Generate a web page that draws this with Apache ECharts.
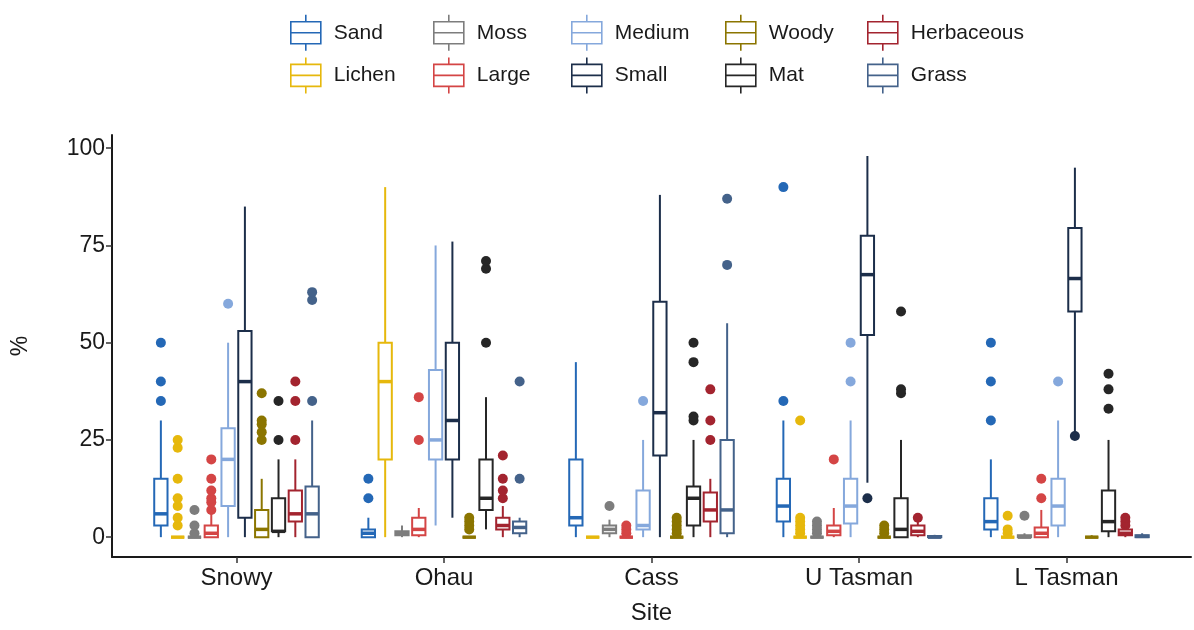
<!DOCTYPE html>
<html><head><meta charset="utf-8">
<script src="https://cdn.jsdelivr.net/npm/echarts@6/dist/echarts.min.js"></script>
<style>html,body{margin:0;padding:0;background:#fff}#c{width:1194px;height:630px}</style>
</head><body><div id="c"></div>
<script>
// ---------- data ----------
const sites = ['Snowy', 'Ohau', 'Cass', 'U Tasman', 'L Tasman'];
const groups = ['Sand', 'Lichen', 'Moss', 'Large', 'Medium', 'Small', 'Woody', 'Mat', 'Herbaceous', 'Grass'];
const yTicks = [0, 25, 50, 75, 100];

// box stats per site: [lower whisker, Q1, median, Q3, upper whisker]
const sandStats   = [[0,3,6,15,30],[0,0,1,2,5],[0,3,5,20,45],[0,4,8,15,30],[0,2,4,10,20]];
const lichenStats = [[0,0,0,0,0],[0,20,40,50,90],[0,0,0,0,0],[0,0,0,0,0],[0,0,0,0,0]];
const mossStats   = [[0,0,0,0,0],[0,0.5,1,1.5,3],[0,1,2,3,4.5],[0,0,0,0,0],[0,0,0,0.5,1]];
const largeStats  = [[0,0,1,3,6],[0,0.5,2,5,7.5],[0,0,0,0,0],[0,0.5,1.5,3,7.5],[0,0,1,2.5,7]];
const mediumStats = [[0,8,20,28,50],[3,20,25,43,75],[0,2,3,12,25],[0,3.5,8,15,30],[0,3,8,15,30]];
const smallStats  = [[0,5,40,53,85],[5,20,30,50,76],[0,21,32,60.5,88],[14,52,67.5,77.5,98],[27,58,66.5,79.5,95]];
const woodyStats  = [[0,0,2,7,15],[0,0,0,0,0],[0,0,0,0,0],[0,0,0,0,0],[0,0,0,0,0.5]];
const matStats    = [[0,1.5,1.5,10,20],[2,7,10,20,36],[0,3,10,13,25],[0,0,2,10,25],[0,1.5,4,12,25]];
const herbStats   = [[0,4,6,12,20],[0,2,3,5,8],[0,4,7,11.5,15],[0,0.5,1.5,3,4],[0,0.5,1,2,2.5]];
const grassStats  = [[0,0,6,13,30],[0,1,2.5,4,5],[0,1,7,25,55],[0,0,0,0.3,0.6],[0,0,0.2,0.5,1]];

// outliers per site
const sandOut   = [[35,40,50],[10,15],[],[35,90],[30,40,50]];
const lichenOut = [[3,5,8,10,15,23,25],[],[],[1,2,3,4,5,30],[1,2,5.5]];
const mossOut   = [[1,3,7],[],[8],[1,2,3,4],[5.5]];
const largeOut  = [[7,9,10,12,15,20],[25,36],[1,2,3],[20],[10,15]];
const mediumOut = [[60],[],[35],[40,50],[40]];
const smallOut  = [[],[],[],[10],[26]];
const woodyOut  = [[25,27,29,30,37],[2,3,4,5],[1,2,3,4,5],[1,2,3],[]];
const matOut    = [[25,35],[50,69,71],[30,31,45,50],[37,38,58],[33,38,42]];
const herbOut   = [[25,35,40],[10,12,15,21],[25,30,38],[5],[3,4,5]];
const grassOut  = [[35,61,63],[15,40],[70,87],[],[]];

const colors = ['#2468b6','#e6b80c','#7d7d7d','#d44545','#85a8dc','#1c2e4a','#8b7500','#262626','#a3242f','#44628a'];

const allStats = [sandStats, lichenStats, mossStats, largeStats, mediumStats, smallStats, woodyStats, matStats, herbStats, grassStats];
const allOut = [sandOut, lichenOut, mossOut, largeOut, mediumOut, smallOut, woodyOut, matOut, herbOut, grassOut];

// ---------- layout ----------
const STEP = 0.081;   // dodge step in axis units
const BOXW = 0.064;   // box width in axis units
const FONT = 'Liberation Sans, Arial, sans-serif';
const offset = gi => (gi - 4.5) * STEP;

function makeRender(gi) {
  const c = colors[gi];
  return function (params, api) {
    const x = api.value(0) + offset(gi);
    const lo = api.coord([x, api.value(1)]);
    const q1 = api.coord([x, api.value(2)]);
    const md = api.coord([x, api.value(3)]);
    const q3 = api.coord([x, api.value(4)]);
    const hi = api.coord([x, api.value(5)]);
    const w = api.size([BOXW, 0])[0];
    return {
      type: 'group',
      children: [
        { type: 'line', shape: { x1: lo[0], y1: lo[1], x2: q1[0], y2: q1[1] }, style: { stroke: c, lineWidth: 2 } },
        { type: 'line', shape: { x1: q3[0], y1: q3[1], x2: hi[0], y2: hi[1] }, style: { stroke: c, lineWidth: 2 } },
        { type: 'rect', shape: { x: q3[0] - w / 2, y: q3[1], width: w, height: q1[1] - q3[1] }, style: { fill: '#fff', stroke: c, lineWidth: 2 } },
        { type: 'line', shape: { x1: md[0] - w / 2, y1: md[1], x2: md[0] + w / 2, y2: md[1] }, style: { stroke: c, lineWidth: 3.5 } }
      ]
    };
  };
}

const series = [];
groups.forEach((g, gi) => {
  series.push({
    type: 'custom', name: g, renderItem: makeRender(gi),
    data: allStats[gi].map((s, si) => [si + 1].concat(s)),
    encode: { x: 0, y: [1, 2, 3, 4, 5] },
    itemStyle: { color: colors[gi] }, z: 2, silent: true
  });
  const pts = [];
  allOut[gi].forEach((arr, si) => arr.forEach(v => pts.push([si + 1 + offset(gi), v])));
  series.push({
    type: 'scatter', name: g, data: pts, symbolSize: 10,
    itemStyle: { color: colors[gi], opacity: 1 }, z: 1, silent: true
  });
});

const ICON = 'path://M15,0L15,7M0,7L30,7L30,29L0,29ZM0,18L30,18M15,29L15,36';
const legendCols = [['Sand', 'Lichen'], ['Moss', 'Large'], ['Medium', 'Small'], ['Woody', 'Mat'], ['Herbaceous', 'Grass']];
const colLeft = [285, 428, 566, 720, 862];
const legends = legendCols.map((pair, ci) => ({
  orient: 'vertical', left: colLeft[ci], top: 9,
  itemWidth: 30, itemHeight: 36, itemGap: 5, selectedMode: false,
  textStyle: { fontSize: 21, color: '#1a1a1a', fontFamily: FONT, padding: [0, 0, 0, 8] },
  data: pair.map(n => ({
    name: n, icon: ICON,
    itemStyle: { color: '#fff', borderColor: colors[groups.indexOf(n)], borderWidth: 1.6 }
  }))
}));

const chart = echarts.init(document.getElementById('c'), null, { renderer: 'canvas' });
chart.setOption({
  animation: false,
  backgroundColor: '#fff',
  legend: legends,
  grid: { left: 112, right: 3, top: 135, bottom: 72.5, containLabel: false },
  xAxis: {
    type: 'value', min: 0.4, max: 5.6,
    splitLine: { show: false },
    axisLine: { show: true, onZero: false, lineStyle: { color: '#1a1a1a', width: 2 } },
    axisTick: { show: true, customValues: [1, 2, 3, 4, 5], length: 6, lineStyle: { color: '#333', width: 1.5 } },
    axisLabel: {
      customValues: [1, 2, 3, 4, 5], formatter: v => sites[Math.round(v) - 1],
      fontSize: 24, color: '#1a1a1a', fontFamily: FONT, margin: 9
    },
    name: 'Site', nameLocation: 'middle', nameGap: 44,
    nameTextStyle: { fontSize: 24, color: '#1a1a1a', fontFamily: FONT }
  },
  yAxis: {
    type: 'value', min: -5.1, max: 103.4,
    splitLine: { show: false },
    axisLine: { show: true, onZero: false, lineStyle: { color: '#1a1a1a', width: 2 } },
    axisTick: { show: true, customValues: yTicks, length: 6, lineStyle: { color: '#333', width: 1.5 } },
    axisLabel: { customValues: yTicks, fontSize: 23, color: '#1a1a1a', fontFamily: FONT, margin: 7 },
    name: '%', nameLocation: 'middle', nameGap: 80, nameRotate: 90,
    nameTextStyle: { fontSize: 23, color: '#1a1a1a', fontFamily: FONT }
  },
  series: series
});
</script>
</body></html>
